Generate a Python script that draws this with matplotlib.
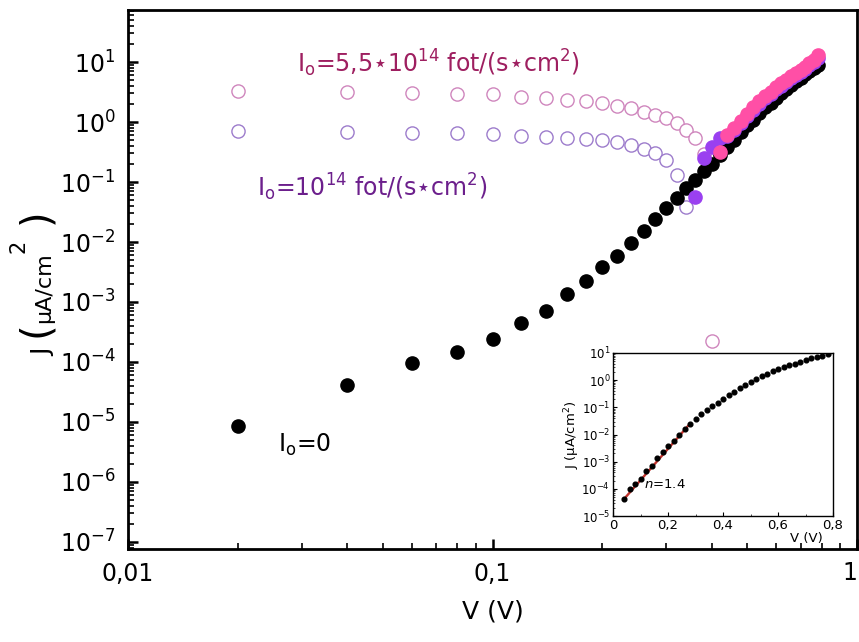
import numpy as np
import matplotlib
matplotlib.use("Agg")
import matplotlib.pyplot as plt
from matplotlib.ticker import LogLocator, FixedLocator, NullFormatter, FixedFormatter, MultipleLocator

plt.rcParams['font.family'] = ['DejaVu Sans']
plt.rcParams['mathtext.fontset'] = 'dejavusans'

# ---------------- data ----------------
v_dark = [0.02, 0.04, 0.06, 0.08, 0.10, 0.12, 0.14, 0.16, 0.18, 0.20,
          0.22, 0.24, 0.26, 0.28, 0.30, 0.32, 0.34, 0.36, 0.38, 0.40,
          0.42, 0.44, 0.46, 0.48, 0.50, 0.52, 0.54, 0.56, 0.58, 0.60,
          0.62, 0.64, 0.66, 0.68, 0.70, 0.72, 0.74, 0.76, 0.78]
j_dark = [8.6e-6, 4.2e-5, 9.5e-5, 1.47e-4, 2.4e-4, 4.5e-4, 7.1e-4, 1.36e-3, 2.2e-3, 3.8e-3,
          5.8e-3, 9.6e-3, 0.0153, 0.024, 0.037, 0.055, 0.08, 0.11, 0.15, 0.2,
          0.28, 0.38, 0.5, 0.68, 0.88, 1.1, 1.4, 1.75, 2.1, 2.5,
          3.0, 3.5, 4.1, 4.8, 5.5, 6.3, 7.1, 8.0, 8.9]

# I0 = 5.5e14: open circles = reverse (negative) current magnitude, filled = positive
v_hi_neg = [0.02, 0.04, 0.06, 0.08, 0.10, 0.12, 0.14, 0.16, 0.18, 0.20,
            0.22, 0.24, 0.26, 0.28, 0.30, 0.32, 0.34, 0.36, 0.38, 0.40]
j_hi_neg = [3.28, 3.16, 3.05, 2.93, 2.93, 2.61, 2.51, 2.32, 2.24, 2.07,
            1.85, 1.71, 1.47, 1.31, 1.17, 0.96, 0.74, 0.54, 0.29, 2.2e-4]
v_hi_pos = [0.42, 0.44, 0.46, 0.48, 0.50, 0.52, 0.54, 0.56, 0.58, 0.60,
            0.62, 0.64, 0.66, 0.68, 0.70, 0.72, 0.74, 0.76, 0.78]
j_hi_pos = [0.32, 0.60, 0.80, 1.05, 1.35, 1.75, 2.2, 2.7, 3.2, 3.8,
            4.4, 5.1, 5.8, 6.6, 7.4, 8.4, 9.6, 11.0, 13.0]

# I0 = 1e14
v_lo_neg = [0.02, 0.04, 0.06, 0.08, 0.10, 0.12, 0.14, 0.16, 0.18, 0.20,
            0.22, 0.24, 0.26, 0.28, 0.30, 0.32, 0.34]
j_lo_neg = [0.71, 0.68, 0.66, 0.66, 0.63, 0.59, 0.56, 0.54, 0.52, 0.50,
            0.46, 0.42, 0.36, 0.31, 0.23, 0.13, 0.038]
v_lo_pos = [0.36, 0.38, 0.40, 0.42, 0.44, 0.46, 0.48, 0.50, 0.52, 0.54,
            0.56, 0.58, 0.60, 0.62, 0.64, 0.66, 0.68, 0.70, 0.72, 0.74,
            0.76, 0.78]
j_lo_pos = [0.056, 0.25, 0.38, 0.54, 0.58, 0.74, 0.97, 1.24, 1.6, 2.0,
            2.5, 2.95, 3.5, 4.05, 4.7, 5.35, 6.1, 6.8, 7.7, 8.8,
            10.0, 11.8]

# ideality fit in inset
fit_v = [0.04, 0.28]
fit_j = [4.2e-5, 0.025]

x_ticks = [0.01, 0.1, 1]
x_ticklabels = ['0,01', '0,1', '1']
y_ticks = [1e-7, 1e-6, 1e-5, 1e-4, 1e-3, 1e-2, 1e-1, 1e0, 1e1]
y_ticklabels = [r'$\mathregular{10^{%d}}$' % e for e in range(-7, 2)]

in_x_ticks = [0, 0.2, 0.4, 0.6, 0.8]
in_x_ticklabels = ['0', '0,2', '0,4', '0,6', '0,8']
in_y_ticks = [1e-5, 1e-4, 1e-3, 1e-2, 1e-1, 1e0, 1e1]
in_y_ticklabels = [r'$\mathregular{10^{%d}}$' % e for e in range(-5, 2)]

# ---------------- figure ----------------
W, H = 859, 642
fig = plt.figure(figsize=(W / 100, H / 100), dpi=100)
ax = fig.add_axes([128 / W, 1 - 549 / H, (857 - 128) / W, (549 - 10) / H])

col_pink_open = '#cf86bd'
col_purple_open = '#9d7ccc'
col_pink = '#ff4fa6'
col_purple = '#9a40f0'

ax.plot(v_lo_neg, j_lo_neg, 'o', ms=9.5, mfc='white', mec=col_purple_open, mew=1.0, ls='none', zorder=3)
ax.plot(v_hi_neg, j_hi_neg, 'o', ms=9.5, mfc='white', mec=col_pink_open, mew=1.0, ls='none', zorder=3)
ax.plot(v_dark, j_dark, 'o', ms=9.5, color='black', ls='none', zorder=4)
ax.plot(v_lo_pos, j_lo_pos, 'o', ms=9.5, color=col_purple, ls='none', zorder=5)
ax.plot(v_hi_pos, j_hi_pos, 'o', ms=9.5, color=col_pink, ls='none', zorder=6)

ax.set_xscale('log')
ax.set_yscale('log')
ax.set_xlim(0.01, 1)
ax.set_ylim(10 ** -7.117, 10 ** 1.867)

ax.xaxis.set_major_locator(FixedLocator(x_ticks))
ax.xaxis.set_major_formatter(FixedFormatter(x_ticklabels))
ax.xaxis.set_minor_locator(LogLocator(base=10, subs=np.arange(2, 10), numticks=50))
ax.xaxis.set_minor_formatter(NullFormatter())
ax.yaxis.set_major_locator(FixedLocator(y_ticks))
ax.yaxis.set_major_formatter(FixedFormatter(y_ticklabels))
ax.yaxis.set_minor_locator(LogLocator(base=10, subs=np.arange(2, 10), numticks=50))
ax.yaxis.set_minor_formatter(NullFormatter())

ax.tick_params(which='both', direction='in', top=False, right=False, labelsize=17)
ax.tick_params(which='major', length=7, width=1.8, pad=9)
ax.tick_params(which='minor', length=4, width=1.2)
for s in ax.spines.values():
    s.set_linewidth(2.0)
ax.xaxis.get_major_ticks()[2].label1.set_horizontalalignment('right')

ax.set_xlabel('V (V)', fontsize=18, labelpad=10)

# y label composed of pieces (large parentheses, raised superscript)
def ftext(px, py, s, size):
    fig.text(px / W, 1 - py / H, s, rotation=90, rotation_mode='anchor',
             ha='center', va='baseline', fontsize=size, color='black')

ftext(50, 352, 'J', 18)
ftext(47, 329, '(', 29)
ftext(50, 288, 'µA/cm', 16)
ftext(25, 246, '2', 15)
ftext(47, 216, ')', 29)

ax.text(0.01 * 10 ** ((297 - 128) / 364), 10 ** (1 + (62 - 63) / 60),
        'I$_\\mathregular{o}$=5,5⋆10$^\\mathregular{14}$ fot/(s⋆cm$^\\mathregular{2}$)',
        fontsize=17, color='#9e1f60', va='center', ha='left')
ax.text(0.01 * 10 ** ((257 - 128) / 364), 10 ** (1 + (62 - 187) / 60),
        'I$_\\mathregular{o}$=10$^\\mathregular{14}$ fot/(s⋆cm$^\\mathregular{2}$)',
        fontsize=17, color='#6c1f8c', va='center', ha='left')
ax.text(0.01 * 10 ** ((278 - 128) / 364), 10 ** (1 + (62 - 445) / 60),
        'I$_\\mathregular{o}$=0', fontsize=17, color='black', va='center', ha='left')

# ---------------- inset ----------------
axi = fig.add_axes([613 / W, 1 - 516 / H, (833 - 613) / W, (516 - 353) / H])
axi.plot(fit_v, fit_j, '-', color='#c0322c', lw=1.7, zorder=2)
axi.plot(v_dark[1:], j_dark[1:], 'o', ms=3.4, color='black', ls='none', zorder=3)
axi.set_yscale('log')
axi.set_xlim(0, 0.8)
axi.set_ylim(1e-5, 10)
axi.xaxis.set_major_locator(FixedLocator(in_x_ticks))
axi.xaxis.set_major_formatter(FixedFormatter(in_x_ticklabels))
axi.xaxis.set_minor_locator(MultipleLocator(0.1))
axi.yaxis.set_major_locator(FixedLocator(in_y_ticks))
axi.yaxis.set_major_formatter(FixedFormatter(in_y_ticklabels))
axi.yaxis.set_minor_locator(LogLocator(base=10, subs=np.arange(2, 10), numticks=50))
axi.yaxis.set_minor_formatter(NullFormatter())
axi.tick_params(which='both', direction='in', top=False, right=False, pad=2)
axi.tick_params(axis='x', labelsize=9.5)
axi.tick_params(axis='y', labelsize=8.5)
axi.tick_params(which='major', length=3, width=0.8)
axi.tick_params(which='minor', length=1.5, width=0.5)
for s in axi.spines.values():
    s.set_linewidth(1.0)
axi.set_xlabel('V (V)', fontsize=9.5)
axi.xaxis.set_label_coords(0.88, -0.1)
axi.set_ylabel('J (µA/cm$^\\mathregular{2}$)', fontsize=9.5)
axi.yaxis.set_label_coords(-0.14, 0.5)
axi.text(0.189, 1.4e-4, '$n$=1.4', fontsize=9.5, color='black', va='center', ha='center')

fig.savefig('out.png', dpi=100)
